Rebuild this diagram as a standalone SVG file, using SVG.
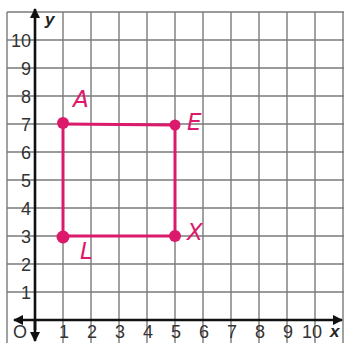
<svg xmlns="http://www.w3.org/2000/svg" width="344" height="343" viewBox="0 0 344 343">
<defs>
<style>
.grid line{stroke:#7a7a7a;stroke-width:1.4}
.axis{stroke:#111;stroke-width:2.6;fill:none}
.num{font-family:"Liberation Sans",Arial,sans-serif;font-size:18px;fill:#333}
.pen{stroke:#dc1a6c;stroke-width:3;fill:none;stroke-linecap:round}
.dot{fill:#dc1a6c}
.hand{font-family:"DejaVu Sans",sans-serif;font-style:oblique;font-size:23px;fill:#dc1a6c}
.var{font-family:"Liberation Sans",Arial,sans-serif;font-style:italic;font-weight:bold;font-size:17px;fill:#222}
</style>
<marker id="ah" viewBox="0 0 10 10" refX="9" refY="5" markerWidth="4" markerHeight="4" orient="auto-start-reverse" markerUnits="strokeWidth">
<path d="M0,0 L10,5 L0,10 z" fill="#111"/>
</marker>
</defs>
<rect width="344" height="343" fill="#fff"/>
<g id="grid" class="grid">
<line x1="7" y1="12" x2="7" y2="343"/>
<line x1="63" y1="12" x2="63" y2="343"/>
<line x1="91" y1="12" x2="91" y2="343"/>
<line x1="119" y1="12" x2="119" y2="343"/>
<line x1="147" y1="12" x2="147" y2="343"/>
<line x1="175" y1="12" x2="175" y2="343"/>
<line x1="203" y1="12" x2="203" y2="343"/>
<line x1="231" y1="12" x2="231" y2="343"/>
<line x1="259" y1="12" x2="259" y2="343"/>
<line x1="287" y1="12" x2="287" y2="343"/>
<line x1="315" y1="12" x2="315" y2="343"/>
<line x1="343" y1="12" x2="343" y2="343"/>
<line x1="7" y1="12" x2="344" y2="12"/>
<line x1="7" y1="40" x2="344" y2="40"/>
<line x1="7" y1="68" x2="344" y2="68"/>
<line x1="7" y1="96" x2="344" y2="96"/>
<line x1="7" y1="124" x2="344" y2="124"/>
<line x1="7" y1="152" x2="344" y2="152"/>
<line x1="7" y1="180" x2="344" y2="180"/>
<line x1="7" y1="208" x2="344" y2="208"/>
<line x1="7" y1="236" x2="344" y2="236"/>
<line x1="7" y1="264" x2="344" y2="264"/>
<line x1="7" y1="292" x2="344" y2="292"/>
</g>
<g id="axes">
<line class="axis" x1="35" y1="330" x2="35" y2="9" marker-end="url(#ah)"/>
<line class="axis" x1="35" y1="320" x2="35" y2="341" marker-end="url(#ah)"/>
<line class="axis" x1="14" y1="320" x2="342" y2="320" marker-start="url(#ah)" marker-end="url(#ah)"/>
<text class="var" x="45" y="25">y</text>
<text class="var" x="330" y="337">x</text>
</g>
<g id="ylabels" class="num" text-anchor="end">
<text x="31" y="47">10</text>
<text x="31" y="75">9</text>
<text x="31" y="103">8</text>
<text x="31" y="131">7</text>
<text x="31" y="159">6</text>
<text x="31" y="187">5</text>
<text x="31" y="215">4</text>
<text x="31" y="243">3</text>
<text x="31" y="271">2</text>
<text x="31" y="299">1</text>
</g>
<g id="xlabels" class="num" text-anchor="middle">
<text x="20" y="338">O</text>
<text x="64" y="338">1</text>
<text x="92" y="338">2</text>
<text x="120" y="338">3</text>
<text x="148" y="338">4</text>
<text x="176" y="338">5</text>
<text x="204" y="338">6</text>
<text x="232" y="338">7</text>
<text x="260" y="338">8</text>
<text x="288" y="338">9</text>
<text x="312" y="338">10</text>
</g>
<g id="connectors" class="pen">
<line x1="63" y1="124" x2="175" y2="125"/>
<line x1="175" y1="125" x2="175" y2="236"/>
<line x1="175" y1="236" x2="63" y2="236"/>
<line x1="63" y1="236" x2="63" y2="124"/>
</g>
<g id="A"><circle class="dot" cx="63" cy="123" r="6"/><text class="hand" x="73" y="107">A</text></g>
<g id="E"><circle class="dot" cx="175" cy="125" r="5.5"/><text class="hand" x="187" y="130">E</text></g>
<g id="X"><circle class="dot" cx="175" cy="236" r="6"/><text class="hand" x="187" y="240">X</text></g>
<g id="L"><circle class="dot" cx="63" cy="237" r="6.5"/><text class="hand" x="80" y="259">L</text></g>
</svg>
